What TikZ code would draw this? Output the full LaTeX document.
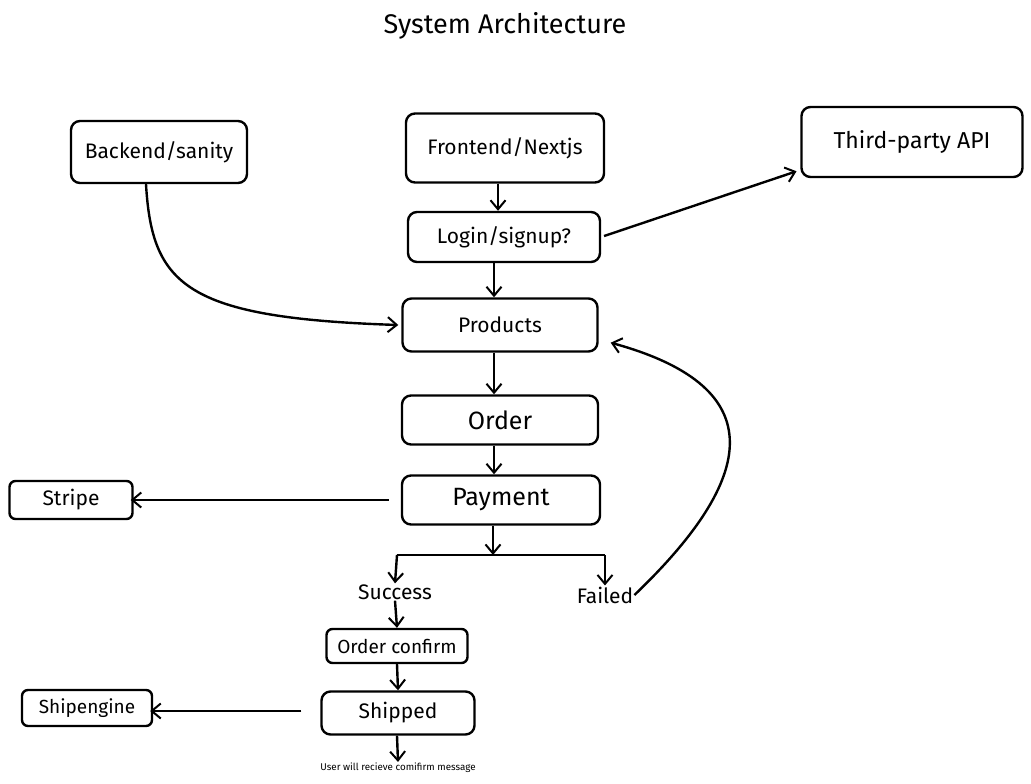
\documentclass[tikz,border=0pt]{standalone}
\usepackage{fontspec}
\setmainfont{Fira Sans}
\usetikzlibrary{arrows.meta}
\begin{document}
\begin{tikzpicture}[x=1pt,y=-1pt,
  box/.style={draw, line width=2.4pt, rounded corners=9pt, inner sep=0pt, font=\fontsize{21}{23}\selectfont},
  lbl/.style={inner sep=1pt, font=\fontsize{21}{23}\selectfont},
  arr/.style={draw, line width=2.4pt, -{Straight Barb[length=9pt,width=15pt,line width=2pt]}},
  ln/.style={draw, line width=2.8pt}]
\useasboundingbox (0,0) rectangle (1031,784);
\node[font=\fontsize{27}{29}\selectfont] (title) at (505,26) {System Architecture};
\node[box, minimum width=176pt, minimum height=62pt] (back) at (159,152) {Backend/sanity};
\node[box, minimum width=198pt, minimum height=69pt] (front) at (505,148) {Frontend/Nextjs};
\node[box, minimum width=221pt, minimum height=70pt, font=\fontsize{23}{25}\selectfont] (api) at (912,142) {Third-party API};
\node[box, minimum width=192pt, minimum height=50pt] (login) at (504,237) {Login/signup?};
\node[box, minimum width=195pt, minimum height=53pt] (prod) at (500,325) {Products};
\node[box, minimum width=196pt, minimum height=49pt, font=\fontsize{25}{27}\selectfont] (order) at (500,420) {Order};
\node[box, minimum width=198pt, minimum height=49pt, font=\fontsize{25}{27}\selectfont] (pay) at (501,500) {Payment};
\node[box, minimum width=123pt, minimum height=38pt, rounded corners=6pt] (stripe) at (71,500) {Stripe};
\node[lbl] (succ) at (395,592) {Success};
\node[lbl] (fail) at (605,595) {Failed};
\node[box, minimum width=141pt, minimum height=34pt, rounded corners=6pt, font=\fontsize{19}{21}\selectfont] (oc) at (397,646) {Order confirm};
\node[box, minimum width=153pt, minimum height=43pt] (ship) at (398,713) {Shipped};
\node[box, minimum width=130pt, minimum height=36pt, rounded corners=6pt, font=\fontsize{19}{21}\selectfont] (se) at (87,708) {Shipengine};
\node[inner sep=1pt, font=\fontsize{9.8}{11}\selectfont] (msg) at (398,768) {User will recieve comifirm message};
\coordinate (bm) at (493,555);
\coordinate (bl) at (397,555);
\coordinate (brr) at (605,555);
% connectors
\draw[arr] ([xshift=-7pt]front.south) -- ([xshift=-6pt]login.north);
\draw[arr] ([xshift=-10pt]login.south) -- ([xshift=-6pt]prod.north);
\draw[arr] ([xshift=-6pt]prod.south) -- ([xshift=-6pt]order.north);
\draw[arr] ([xshift=-6pt]order.south) -- ([xshift=-7pt]pay.north);
\draw[arr] ([xshift=-8pt]pay.south) -- (bm);
\draw[ln] (bl) -- (brr);
\draw[arr] (bl) -- (succ.north);
\draw[arr] (brr) -- (fail.north);
\draw[arr] (succ.south) -- (oc.north);
\draw[arr] (oc.south) -- (ship.north);
\draw[arr] ([xshift=-1pt]ship.south) -- (msg.north);
\draw[arr, shorten <=12pt] (pay.west) -- ([xshift=-3pt]stripe.east);
\draw[arr, shorten <=19pt] ([yshift=2pt]ship.west) -- ([xshift=-3pt,yshift=-3pt]se.east);
\draw[arr, shorten <=3pt, shorten >=4pt] (login.east) -- ([yshift=-28pt]api.west);
\draw[arr] ([xshift=-13pt]back.south) .. controls (152,285) and (185,318) .. ([xshift=-3pt]prod.west);
\draw[arr] (fail.east) .. controls (765,470) and (765,385) .. ([xshift=12pt,yshift=10pt]prod.south east);
\end{tikzpicture}
\end{document}
